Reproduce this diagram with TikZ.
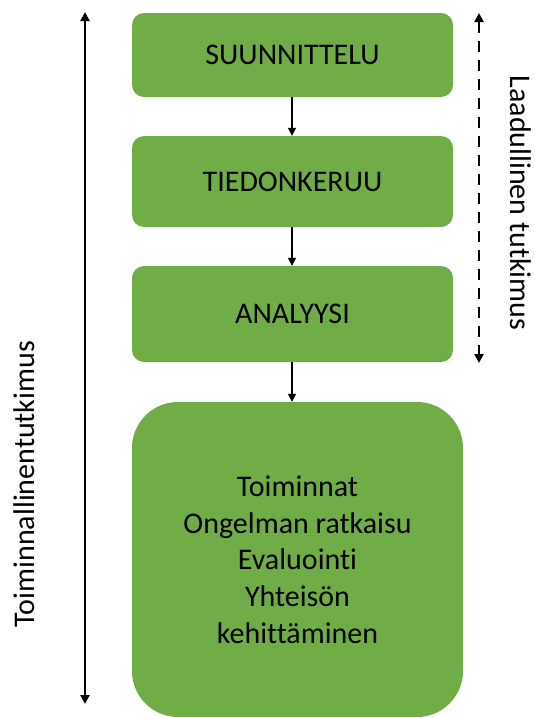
\documentclass[tikz,border=0pt]{standalone}
\usepackage{fontspec}
\setmainfont{Carlito}[Ligatures=NoCommon]
\usetikzlibrary{arrows.meta}
\definecolor{boxgreen}{HTML}{70AD47}
\tikzset{
  stage/.style={draw=none, fill=boxgreen, rounded corners=12pt, minimum width=321pt, inner sep=0pt, font=\fontsize{30pt}{36.7pt}\selectfont, text=black},
  bigstage/.style={stage, rounded corners=46pt, minimum width=331pt, minimum height=315pt, align=center},
  flow/.style={line width=1.4pt, -{Triangle[length=8pt,width=8pt]}},
  span/.style={line width=2pt, {Triangle[length=9pt,width=9pt]}-{Triangle[length=9pt,width=9pt]}},
  sidelabel/.style={font=\fontsize{30pt}{36pt}\selectfont, inner sep=0pt}
}
\begin{document}
\begin{tikzpicture}[x=1pt,y=-1pt]
\useasboundingbox (0,0) rectangle (535,718);
\node[stage, minimum height=84pt] (s1) at (292.5,55) {SUUNNITTELU};
\node[stage, minimum height=91pt] (s2) at (292.5,181.5) {TIEDONKERUU};
\node[stage, minimum height=96pt] (s3) at (292.5,314) {ANALYYSI};
\node[bigstage] (s4) at (297.5,559.5) {Toiminnat\\Ongelman ratkaisu\\Evaluointi\\Yhteisön\\kehittäminen};
\draw[flow] (s1.south -| 292,0) -- (s2.north -| 292,0);
\draw[flow] (s2.south -| 292,0) -- (s3.north -| 292,0);
\draw[flow] (s3.south -| 292,0) -- (s4.north -| 292,0);
\coordinate (lt) at (85,12);
\coordinate (lb) at (85,704);
\draw[span] (lt) -- (lb);
\coordinate (rt) at (479,13);
\coordinate (rb) at (479,363);
\draw[span, dash pattern=on 11pt off 8pt] (rt) -- (rb);
\node[sidelabel, rotate=-90] (ql) at (521,203) {Laadullinen tutkimus};
\node[sidelabel, rotate=90] (tl) at (24,484) {Toiminnallinentutkimus};
\end{tikzpicture}
\end{document}
